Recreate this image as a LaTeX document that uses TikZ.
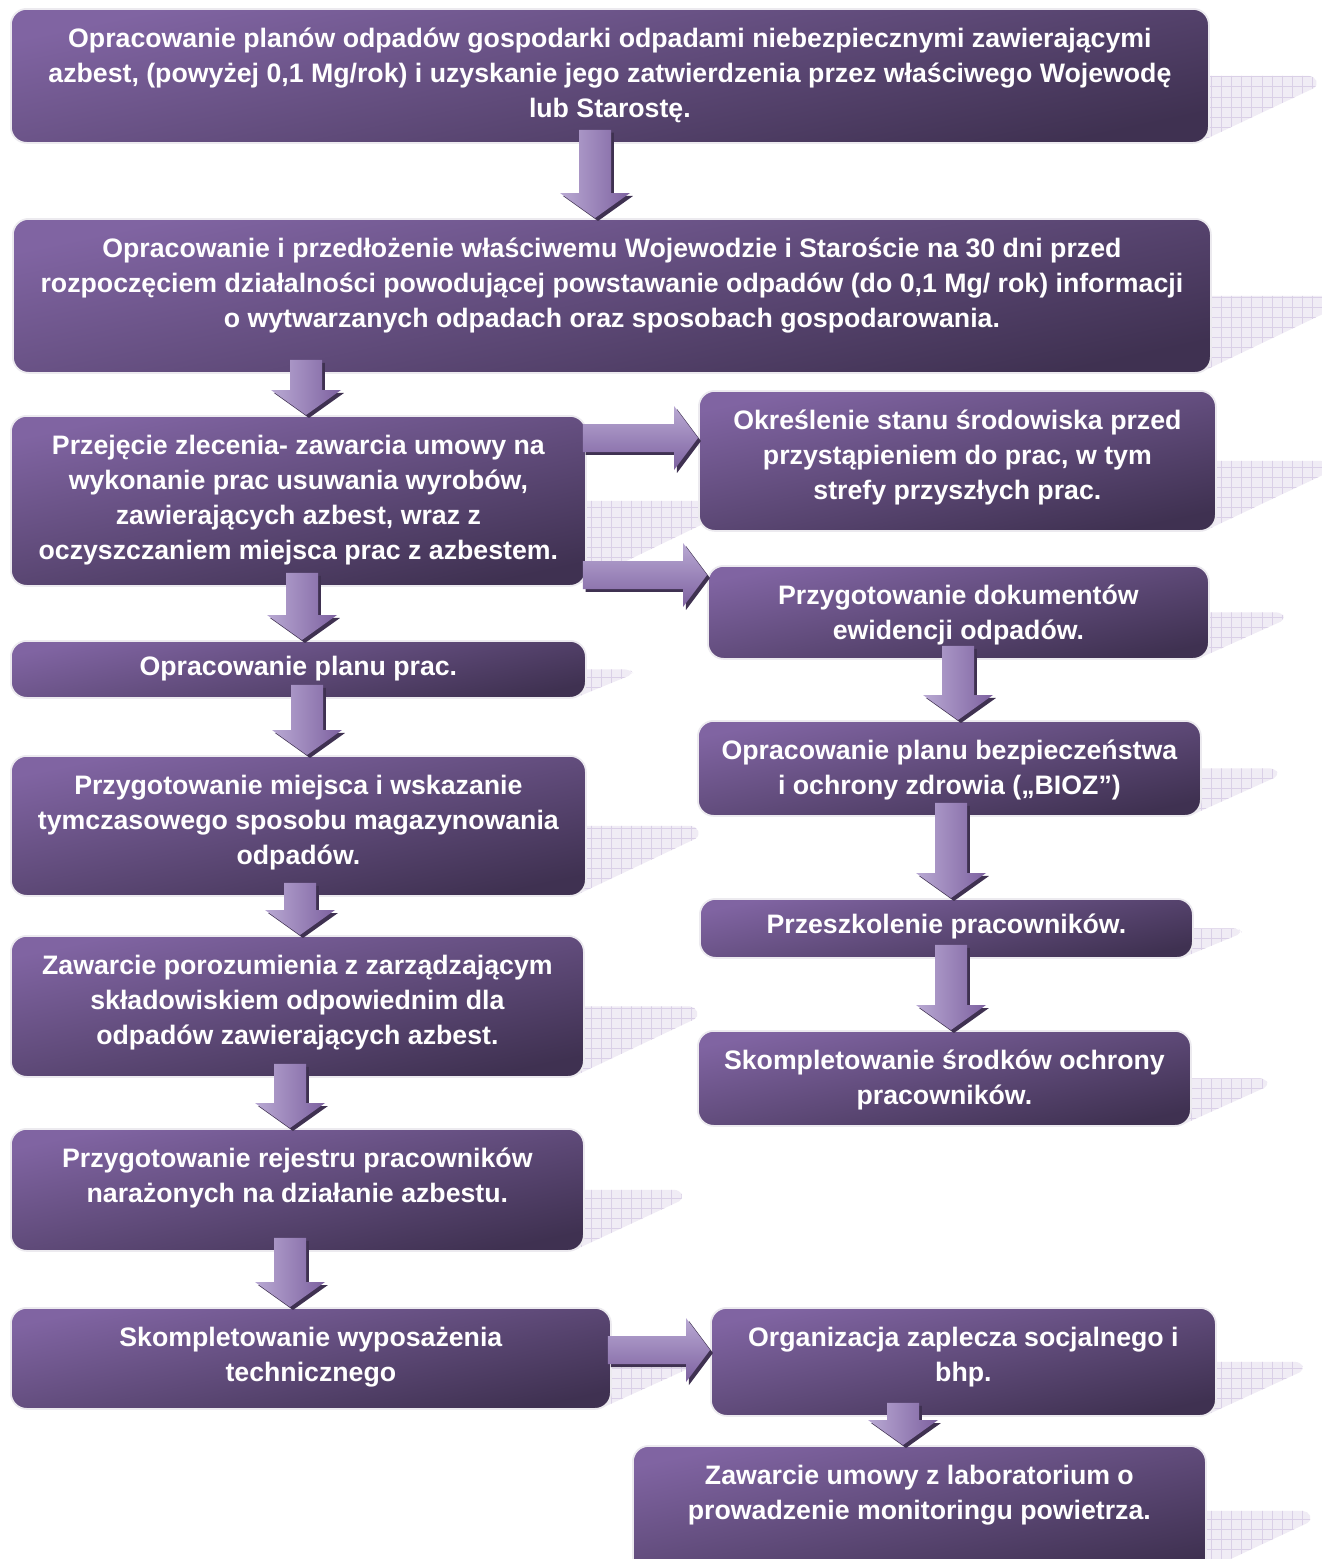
\documentclass[tikz,border=0pt]{standalone}
\usepackage{fontspec}
\setmainfont{Liberation Sans}
\usetikzlibrary{calc,backgrounds,patterns.meta}

\definecolor{boxtop}{HTML}{8064A2}
\definecolor{boxbottom}{HTML}{3F3151}
\definecolor{boxline}{HTML}{ECEAEF}
\definecolor{arrowlight}{HTML}{B9A9D3}
\definecolor{arrowmain}{HTML}{7D61A0}
\definecolor{arrowdark}{HTML}{3F3151}
\definecolor{shadowbg}{HTML}{F0ECF5}
\definecolor{shadowgrid}{HTML}{DAD0E7}

\newlength\pxu
\setlength\pxu{0.02cm}

% box contents: [top space] width, height (px), text
\newcommand\boxtext[4][8pt]{\parbox[c][#3\pxu][t]{#2\pxu}{\centering\vspace*{#1}\strut#4}}

% grid shadow right of a box
\newcommand\gridshadow[1]{%
  \path[gridfill] let \p1=(#1.east), \p2=(#1.south east), \n1={\y1-\y2} in
    (\x1-10*\pxu,\y1) -- (\x1+1.6*\n1-4*\pxu,\y1) -- (\x1+1.6*\n1,\y1-0.15*\n1)
    -- (\x1-14*\pxu,\y2) -- cycle;}

% fat arrows: offset, x or y (px), from, to
\newcommand\downpath[4]{%
  let \p1=(#3.south), \p2=(#4.north), \p3=(#2,0) in
  (\x3-16*\pxu+#1,\y1+14*\pxu-#1) -- (\x3+16*\pxu+#1,\y1+14*\pxu-#1)
  -- (\x3+16*\pxu+#1,\y2+25*\pxu-#1) -- (\x3+35*\pxu+#1,\y2+25*\pxu-#1)
  -- (\x3+#1,\y2-#1) -- (\x3-35*\pxu+#1,\y2+25*\pxu-#1)
  -- (\x3-16*\pxu+#1,\y2+25*\pxu-#1) -- cycle}
\newcommand\rightpath[4]{%
  let \p1=(#3.east), \p2=(#4.west), \p3=(0,#2) in
  (\x1-4*\pxu+#1,\y3+14*\pxu-#1) -- (\x2-24*\pxu+#1,\y3+14*\pxu-#1)
  -- (\x2-24*\pxu+#1,\y3+32*\pxu-#1) -- (\x2+#1,\y3-#1)
  -- (\x2-24*\pxu+#1,\y3-32*\pxu-#1) -- (\x2-24*\pxu+#1,\y3-14*\pxu-#1)
  -- (\x1-4*\pxu+#1,\y3-14*\pxu-#1) -- cycle}
\newcommand\arrowdown[3]{%
  \fill[arrowdark] \downpath{1.7pt}{#1}{#2}{#3};
  \shade[fatdown] \downpath{0pt}{#1}{#2}{#3};}
\newcommand\arrowright[3]{%
  \fill[arrowdark] \rightpath{1.7pt}{#1}{#2}{#3};
  \shade[fatright] \rightpath{0pt}{#1}{#2}{#3};}

\tikzset{
  stepbox/.style={draw=boxline, line width=1pt, rounded corners=9pt,
    top color=boxtop, bottom color=boxbottom, shading angle=12,
    anchor=north west, inner sep=0pt, text=white,
    font=\fontsize{15.2pt}{19.9pt}\selectfont\bfseries},
  gridfill/.style={fill=shadowbg, rounded corners=3pt,
    postaction={pattern={Hatch[distance=5.7pt,line width=0.4pt]}, pattern color=shadowgrid}},
  fatdown/.style={left color=arrowlight, right color=arrowmain},
  fatright/.style={top color=arrowlight, bottom color=arrowmain},
}

\begin{document}
\begin{tikzpicture}[x=0.02cm,y=-0.02cm]
    \useasboundingbox (0,0) rectangle (1322,1559);
    % Left column
    \node[stepbox] (plan) at (10,8) {\boxtext{1198}{134}{Opracowanie planów odpadów gospodarki odpadami niebezpiecznymi zawierającymi\\ azbest, (powyżej 0,1 Mg/rok) i uzyskanie jego zatwierdzenia przez właściwego Wojewodę\\ lub Starostę.}};
    \node[stepbox] (info) at (12,218) {\boxtext{1198}{154}{Opracowanie i przedłożenie właściwemu Wojewodzie i Staroście na 30 dni przed\\ rozpoczęciem działalności powodującej powstawanie odpadów (do 0,1 Mg/ rok) informacji\\ o wytwarzanych odpadach oraz sposobach gospodarowania.}};
    \node[stepbox] (order) at (10,415) {\boxtext{575}{170}{Przejęcie zlecenia- zawarcia umowy na\\ wykonanie prac usuwania wyrobów,\\ zawierających azbest, wraz z\\ oczyszczaniem miejsca prac z azbestem.}};
    \node[stepbox] (workplan) at (10,640) {\boxtext[5.5pt]{575}{57}{Opracowanie planu prac.}};
    \node[stepbox] (storage) at (10,755) {\boxtext{575}{140}{Przygotowanie miejsca i wskazanie\\ tymczasowego sposobu magazynowania\\ odpadów.}};
    \node[stepbox] (landfill) at (10,935) {\boxtext{573}{141}{Zawarcie porozumienia z zarządzającym\\ składowiskiem odpowiednim dla\\ odpadów zawierających azbest.}};
    \node[stepbox] (register) at (10,1128) {\boxtext{573}{122}{Przygotowanie rejestru pracowników\\ narażonych na działanie azbestu.}};
    \node[stepbox] (equipment) at (10,1307) {\boxtext{600}{101}{Skompletowanie wyposażenia\\ technicznego}};
    % Right column
    \node[stepbox] (state) at (698,390) {\boxtext{517}{140}{Określenie stanu środowiska przed\\ przystąpieniem do prac, w tym\\ strefy przyszłych prac.}};
    \node[stepbox] (records) at (707,565) {\boxtext{501}{93}{Przygotowanie dokumentów\\ ewidencji odpadów.}};
    \node[stepbox] (bioz) at (697,720) {\boxtext{503}{95}{Opracowanie planu bezpieczeństwa\\ i ochrony zdrowia („BIOZ”)}};
    \node[stepbox] (training) at (699,898) {\boxtext[5.5pt]{493}{59}{Przeszkolenie pracowników.}};
    \node[stepbox] (protection) at (697,1030) {\boxtext{493}{95}{Skompletowanie środków ochrony\\ pracowników.}};
    \node[stepbox] (facilities) at (710,1307) {\boxtext{505}{108}{Organizacja zaplecza socjalnego i\\ bhp.}};
    \node[stepbox] (lab) at (632,1445) {\boxtext{573}{130}{Zawarcie umowy z laboratorium o\\ prowadzenie monitoringu powietrza.}};
    % Grid shadows
    \begin{scope}[on background layer]
        \fill[white] (0,0) rectangle (1322,1559);
        \foreach \b in {plan,info,order,workplan,storage,landfill,register,equipment,
                        state,records,bioz,training,protection,facilities,lab}
            {\gridshadow{\b}}
    \end{scope}
    % Arrows
    \arrowdown{595}{plan}{info}
    \arrowdown{306}{info}{order}
    \arrowright{438}{order}{state}
    \arrowright{575}{order}{records}
    \arrowdown{302}{order}{workplan}
    \arrowdown{307}{workplan}{storage}
    \arrowdown{300}{storage}{landfill}
    \arrowdown{290}{landfill}{register}
    \arrowdown{290}{register}{equipment}
    \arrowright{1350}{equipment}{facilities}
    \arrowdown{903}{facilities}{lab}
    \arrowdown{958}{records}{bioz}
    \arrowdown{951}{bioz}{training}
    \arrowdown{951}{training}{protection}
\end{tikzpicture}
\end{document}
